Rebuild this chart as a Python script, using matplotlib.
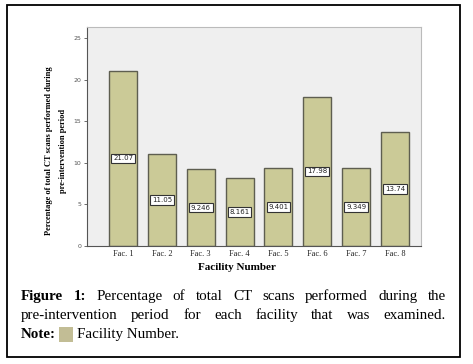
import matplotlib
matplotlib.use("Agg")
import matplotlib.pyplot as plt
from matplotlib.patches import Rectangle

facilities = ["Fac. 1", "Fac. 2", "Fac. 3", "Fac. 4", "Fac. 5", "Fac. 6", "Fac. 7", "Fac. 8"]
percentages = [21.07, 11.05, 9.246, 8.161, 9.401, 17.98, 9.349, 13.74]
value_labels = ["21.07", "11.05", "9.246", "8.161", "9.401", "17.98", "9.349", "13.74"]
yticks = [0, 5, 10, 15, 20, 25]

W, H = 473, 364
fig = plt.figure(figsize=(W / 100, H / 100), dpi=100)

def px(x, y):
    # pixel coords (top-left origin) -> figure fraction
    return x / W, 1 - y / H

# outer frame
fig.patches.append(Rectangle(px(7, 357), 453 / W, 352 / H, transform=fig.transFigure,
                             fill=False, edgecolor="black", linewidth=1.3))

l, t = px(87, 27)
r, b = px(421, 246)
ax = fig.add_axes([l, b, r - l, t - b])
ax.set_facecolor("#efefef")

x = list(range(len(facilities)))
ax.bar(x, percentages, width=0.72, color="#cbca97", edgecolor="#5e5e50", linewidth=1.0)
for xi, v, lab in zip(x, percentages, value_labels):
    ax.text(xi, v / 2, lab, ha="center", va="center", fontsize=5, color="#222222",
            bbox=dict(boxstyle="square,pad=0.25", facecolor="white", edgecolor="#333333", linewidth=0.8))

ax.set_xlim(-0.93, 7.67)
ax.set_ylim(0, 26.35)
ax.set_yticks(yticks)
ax.set_yticklabels([str(v) for v in yticks], fontsize=4.5, color="#555555")
ax.set_xticks(x)
ax.set_xticklabels(facilities, fontsize=6, family="Liberation Serif", color="#222222")
ax.tick_params(axis="x", length=0, pad=3)
ax.tick_params(axis="y", length=2.5, width=0.6, color="#555555", pad=1.5)
for side in ["top", "right"]:
    ax.spines[side].set_color("#bbbbbb")
    ax.spines[side].set_linewidth(0.8)
for side in ["left", "bottom"]:
    ax.spines[side].set_color("#555555")
    ax.spines[side].set_linewidth(0.8)

fig.text(*px(56, 151), "Percentage of total CT scans performed during\npre-intervention period",
         rotation=90, ha="center", va="center", fontsize=6.0, fontweight="bold",
         family="Liberation Serif", linespacing=2.0)
fig.text(*px(237, 268), "Facility Number", ha="center", va="center", fontsize=8,
         fontweight="bold", family="Liberation Serif")

# caption, justified
cap_lines = [
    [("Figure", True), ("1:", True), ("Percentage", False), ("of", False), ("total", False),
     ("CT", False), ("scans", False), ("performed", False), ("during", False), ("the", False)],
    [("pre-intervention", False), ("period", False), ("for", False), ("each", False),
     ("facility", False), ("that", False), ("was", False), ("examined.", False)],
]
cap_size = 10.8
x0, x1 = 21, 446
renderer = fig.canvas.get_renderer()
for words, ypx in zip(cap_lines, [300, 319]):
    items = []
    for w, bold in words:
        tx = fig.text(0, px(0, ypx)[1], w, fontsize=cap_size, family="Liberation Serif",
                      fontweight="bold" if bold else "normal", va="baseline", ha="left")
        items.append(tx)
    widths = [tx.get_window_extent(renderer).width for tx in items]
    gap = (x1 - x0 - sum(widths)) / (len(items) - 1)
    cur = x0
    for tx, wd in zip(items, widths):
        tx.set_x(cur / W)
        cur += wd + gap

fig.text(*px(21, 338), "Note:", fontsize=cap_size, family="Liberation Serif", fontweight="bold",
         va="baseline", ha="left")
fig.patches.append(Rectangle(px(59, 342), 14 / W, 15 / H, transform=fig.transFigure,
                             facecolor="#c2bd95", edgecolor="none"))
fig.text(*px(77, 338), "Facility Number.", fontsize=cap_size, family="Liberation Serif",
         va="baseline", ha="left")

fig.savefig("out.png", dpi=100)
